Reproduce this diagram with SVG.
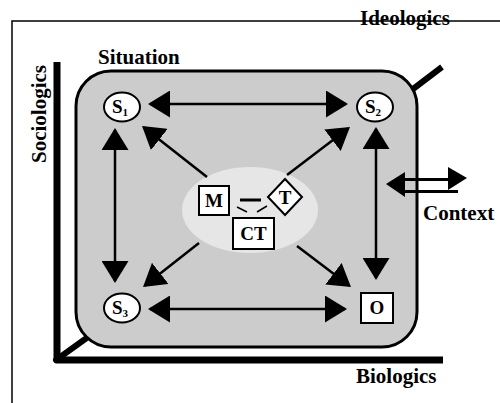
<svg xmlns="http://www.w3.org/2000/svg" width="500" height="403" viewBox="0 0 500 403">
<style>
.lbl{font-family:"Liberation Serif","Times New Roman",serif;font-weight:bold;font-size:21px;fill:#000}
.nt{font-family:"Liberation Serif","Times New Roman",serif;font-weight:bold;font-size:19px;fill:#000;text-anchor:middle}
.sub{font-size:11px}
.node{fill:#fff;stroke:#000;stroke-width:2}
.arr{stroke:#000;stroke-width:2.5;fill:none}
</style>
<defs>
<marker id="ah" markerUnits="userSpaceOnUse" markerWidth="22" markerHeight="27" refX="20" refY="13.5" orient="auto-start-reverse" viewBox="0 0 22 27">
<path d="M0,0 L22,13.5 L0,27 Z" fill="#000"/>
</marker>
</defs>
<g id="frame">
<path d="M12,403 V21 H500" fill="none" stroke="#000" stroke-width="1.5"/>
</g>
<g id="axes">
<path d="M57,62 V360 H443" fill="none" stroke="#000" stroke-width="7" stroke-linejoin="round"/>
<line x1="56" y1="360" x2="88" y2="337" stroke="#000" stroke-width="6" stroke-linecap="round"/>
<line x1="413" y1="89" x2="442" y2="67" stroke="#000" stroke-width="6"/>
</g>
<g id="situation">
<rect x="76" y="71" width="341" height="276" rx="35" ry="35" fill="#cccccc" stroke="#000" stroke-width="3"/>
<ellipse cx="250" cy="210" rx="68" ry="43" fill="#e6e6e6"/>
</g>
<g id="labels">
<text class="lbl" x="360" y="25">Ideologics</text>
<text class="lbl" x="98" y="64">Situation</text>
<text class="lbl" transform="translate(46,163) rotate(-90)">Sociologics</text>
<text class="lbl" x="423" y="220">Context</text>
<text class="lbl" x="356" y="383">Biologics</text>
</g>
<g id="connectors">
<line class="arr" x1="150" y1="104" x2="346" y2="104" marker-start="url(#ah)" marker-end="url(#ah)"/>
<line class="arr" x1="150" y1="309" x2="345" y2="309" marker-start="url(#ah)" marker-end="url(#ah)"/>
<line class="arr" x1="115" y1="130" x2="115" y2="281" marker-start="url(#ah)" marker-end="url(#ah)"/>
<line class="arr" x1="376" y1="129" x2="376" y2="278" marker-start="url(#ah)" marker-end="url(#ah)"/>
<line class="arr" x1="207" y1="177" x2="143.6" y2="127.2" marker-end="url(#ah)"/>
<line class="arr" x1="287" y1="175" x2="348.4" y2="128.2" marker-end="url(#ah)"/>
<line class="arr" x1="199" y1="243" x2="144.6" y2="285.8" marker-end="url(#ah)"/>
<line class="arr" x1="297" y1="246" x2="349.4" y2="285.8" marker-end="url(#ah)"/>
<line x1="240" y1="200" x2="261" y2="200" stroke="#000" stroke-width="3"/>
<line x1="237" y1="207" x2="247" y2="212" stroke="#000" stroke-width="1.5"/>
<line x1="257" y1="212" x2="267" y2="206" stroke="#000" stroke-width="1.5"/>
</g>
<g id="context-arrow">
<line x1="400" y1="179.5" x2="450" y2="179.5" stroke="#000" stroke-width="3"/>
<line x1="400" y1="191.5" x2="458" y2="191.5" stroke="#000" stroke-width="3"/>
<polygon points="386,184 405,172 405,197" fill="#000"/>
<polygon points="467,178 448,167 448,190" fill="#000"/>
</g>
<g id="S1">
<ellipse class="node" cx="122" cy="107" rx="18" ry="14.5"/>
<text class="nt" x="120" y="113">S<tspan class="sub" dy="3">1</tspan></text>
</g>
<g id="S2">
<ellipse class="node" cx="375" cy="107" rx="18" ry="14.5"/>
<text class="nt" x="373" y="113">S<tspan class="sub" dy="3">2</tspan></text>
</g>
<g id="S3">
<ellipse class="node" cx="122" cy="308" rx="18" ry="14.5"/>
<text class="nt" x="120" y="314">S<tspan class="sub" dy="3">3</tspan></text>
</g>
<g id="O">
<rect class="node" x="361" y="293" width="32" height="30"/>
<text class="nt" x="377" y="314">O</text>
</g>
<g id="M">
<rect class="node" x="199" y="186" width="30" height="29"/>
<text class="nt" x="214" y="207">M</text>
</g>
<g id="T">
<polygon class="node" points="285,179 302,197 285,215 268,197"/>
<text class="nt" x="285" y="204">T</text>
</g>
<g id="CT">
<rect class="node" x="233" y="218" width="41" height="31"/>
<text class="nt" x="253.5" y="240">CT</text>
</g>
</svg>
